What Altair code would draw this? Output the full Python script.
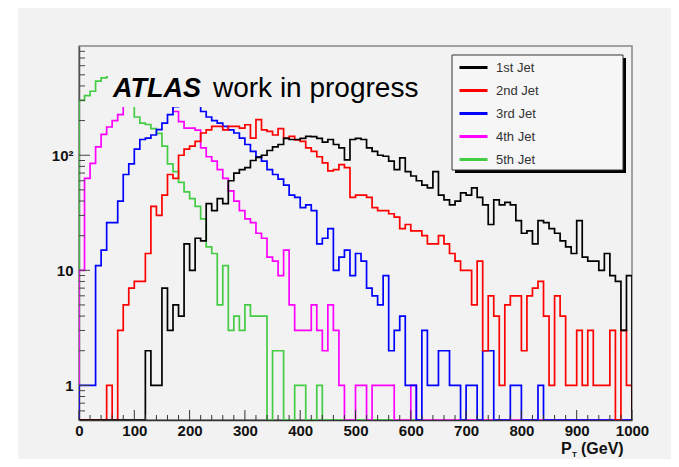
import altair as alt
import pandas as pd

# ---------------- data (10 GeV bins, 0-1000 GeV) ----------------
BIN_LOW = list(range(0, 1000, 10))

JET1 = [0, 0, 0, 0, 0, 0, 0, 0, 0, 0,
        0, 0, 2, 1, 1, 7, 3, 5, 4, 17,
        10, 19, 18, 38, 33, 42, 38, 60, 70, 75,
        78, 90, 96, 100, 110, 118, 124, 140, 137, 137,
        140, 146, 145, 140, 130, 137, 124, 116, 91, 137,
        140, 137, 116, 108, 100, 98, 89, 75, 95, 72,
        66, 60, 55, 52, 72, 45, 41, 37, 40, 47,
        45, 52, 43, 37, 25, 41, 37, 39, 37, 27,
        21, 22, 17, 27, 26, 23, 21, 18, 16, 14,
        27, 13, 12, 12, 10, 14, 9, 8, 3, 9]

JET2 = [0, 0, 0, 0, 0, 1, 0, 3, 5, 7,
        8, 8, 14, 36, 30, 45, 68, 63, 100, 113,
        120, 132, 156, 166, 178, 178, 166, 178, 178, 172,
        184, 141, 204, 166, 161, 150, 170, 141, 146, 136,
        132, 116, 108, 97, 86, 73, 75, 83, 78, 43,
        45, 45, 43, 35, 33, 33, 31, 29, 23, 25,
        22, 22, 20, 17, 17, 20, 17, 14, 12, 10,
        10, 5, 12, 2, 6, 4, 1, 5, 6, 6,
        2, 6, 7, 8, 4, 1, 6, 4, 1, 1,
        3, 1, 3, 1, 1, 1, 3, 0, 3, 1]

JET3 = [1, 1, 1, 11, 15, 26, 26, 40, 68, 84,
        113, 137, 141, 150, 167, 190, 225, 265, 300, 310,
        310, 300, 240, 215, 200, 190, 178, 166, 156, 141,
        124, 108, 97, 89, 75, 68, 62, 55, 45, 43,
        35, 37, 33, 17, 19, 23, 10, 13, 15, 9,
        14, 12, 7, 6, 5, 9, 2, 3, 4, 1,
        1, 0, 3, 1, 1, 2, 2, 1, 1, 0,
        1, 1, 0, 2, 2, 0, 0, 0, 1, 1,
        0, 0, 0, 1, 0, 0, 0, 0, 0, 0,
        0, 0, 0, 0, 0, 0, 0, 0, 0, 0]

JET4 = [10, 63, 85, 118, 152, 176, 200, 225, 300, 320,
        330, 320, 310, 300, 290, 280, 270, 240, 196, 172,
        172, 165, 116, 97, 89, 75, 63, 49, 40, 33,
        28, 26, 21, 19, 13, 12, 9, 15, 5, 3,
        3, 3, 5, 3, 2, 5, 3, 1, 0, 0,
        1, 1, 0, 1, 1, 1, 1, 0, 0, 0,
        1, 0, 0, 0, 0, 0, 0, 0, 0, 0,
        0, 0, 0, 0, 0, 0, 0, 0, 0, 0,
        0, 0, 0, 0, 0, 0, 0, 0, 0, 0,
        0, 0, 0, 0, 0, 0, 0, 0, 0, 0]

JET5 = [300, 330, 360, 440, 470, 480, 450, 420, 380, 320,
        215, 190, 185, 170, 155, 120, 84, 72, 58, 48,
        42, 36, 28, 16, 14, 5, 11, 3, 4, 3,
        5, 4, 4, 4, 0, 2, 2, 0, 0, 1,
        1, 0, 0, 1, 0, 0, 0, 0, 0, 0,
        0, 0, 0, 0, 0, 0, 0, 0, 0, 0,
        0, 0, 0, 0, 0, 0, 0, 0, 0, 0,
        0, 0, 0, 0, 0, 0, 0, 0, 0, 0,
        0, 0, 0, 0, 0, 0, 0, 0, 0, 0,
        0, 0, 0, 0, 0, 0, 0, 0, 0, 0]

SERIES = ["1st Jet", "2nd Jet", "3rd Jet", "4th Jet", "5th Jet"]
COLORS = ["#000000", "#ff0000", "#0000ff", "#ff00ff", "#44cc44"]

X_MAJOR = [0, 100, 200, 300, 400, 500, 600, 700, 800, 900, 1000]
X_MINOR = [20, 40, 60, 80, 120, 140, 160, 180, 220, 240, 260, 280,
           320, 340, 360, 380, 420, 440, 460, 480, 520, 540, 560, 580,
           620, 640, 660, 680, 720, 740, 760, 780, 820, 840, 860, 880,
           920, 940, 960, 980]
Y_MAJOR = [1, 10, 100]
Y_MINOR = [0.6, 0.7, 0.8, 0.9, 2, 3, 4, 5, 6, 7, 8, 9,
           20, 30, 40, 50, 60, 70, 80, 90, 200, 300, 400, 500, 600, 700, 800]

Y_MIN, Y_MAX = 0.5, 890
W, H = 553, 374
FONT = "Liberation Sans"
BG = "#f2f2f2"

# ---------------- table ----------------
rows = []
for name, vals in zip(SERIES, [JET1, JET2, JET3, JET4, JET5]):
    pts = [(0, 0)] + list(zip(BIN_LOW, vals)) + [(1000, vals[-1]), (1000, 0)]
    for k, (x, v) in enumerate(pts):
        rows.append({"series": name, "pt": k, "x": x, "count": v})
df = pd.DataFrame(rows)

xs = alt.Scale(domain=[0, 1000], nice=False, zero=False)
ys = alt.Scale(type="log", domain=[Y_MIN, Y_MAX], nice=False)

x_axis = alt.Axis(values=X_MAJOR, format="d", ticks=False, grid=False, title=None,
                  labelFont=FONT, labelFontSize=15, labelFontWeight="bold",
                  labelColor="#111111", labelPadding=3, labelFlush=False,
                  labelOverlap=False, labelAngle=0,
                  domainColor="#333333", domainWidth=1.5)
y_axis = alt.Axis(values=Y_MAJOR, ticks=False, grid=False, title=None,
                  labelExpr="datum.value == 100 ? '10²' : format(datum.value, 'd')",
                  labelFont=FONT, labelFontSize=15, labelFontWeight="bold",
                  labelColor="#111111", labelPadding=6, labelOverlap=False,
                  domainColor="#555555", domainWidth=1.5)

legend = alt.Legend(orient="none", legendX=379, legendY=10, title=None,
                    symbolType="stroke", symbolStrokeWidth=3, symbolSize=784,
                    labelFont=FONT, labelFontSize=13, labelColor="#333333",
                    labelOffset=7, padding=0, rowPadding=0, clipHeight=23)

X_ENC = alt.X("x:Q", scale=xs, axis=x_axis)
Y_ENC = alt.Y("yv:Q", scale=ys, axis=y_axis)

base = alt.Chart(df).transform_calculate(
    yv=f"max(datum.count, {Y_MIN})"
).mark_line(interpolate="step-after", strokeWidth=1.7, clip=True).encode(
    x=X_ENC,
    y=Y_ENC,
    color=alt.Color("series:N", scale=alt.Scale(domain=SERIES, range=COLORS), legend=legend),
    order=alt.Order("pt:Q"),
)
hist_layers = [base.transform_filter(alt.datum.series == s) for s in reversed(SERIES)]

one = pd.DataFrame({"a": [0]})

# opaque box behind the ATLAS label
label_box = alt.Chart(one).mark_rect(color=BG).encode(
    x=alt.value(29), x2=alt.value(346), y=alt.value(12), y2=alt.value(61))
atlas = alt.Chart(one).mark_text(
    text="ATLAS", font=FONT, fontSize=27, fontWeight="bold", fontStyle="italic",
    align="left", baseline="alphabetic", color="#000000"
).encode(x=alt.value(34), y=alt.value(51))
wip = alt.Chart(one).mark_text(
    text="work in progress", font=FONT, fontSize=28, align="left",
    baseline="alphabetic", color="#000000"
).encode(x=alt.value(134), y=alt.value(51))

# inward ticks (ROOT style)
xmaj = alt.Chart(pd.DataFrame({"x": X_MAJOR})).mark_rule(color="#333333", strokeWidth=1).encode(
    x=X_ENC, y=alt.value(H), y2=alt.value(H - 10))
xmin = alt.Chart(pd.DataFrame({"x": X_MINOR})).mark_rule(color="#333333", strokeWidth=1).encode(
    x=X_ENC, y=alt.value(H), y2=alt.value(H - 5))
ymaj = alt.Chart(pd.DataFrame({"yv": Y_MAJOR})).mark_rule(color="#444444", strokeWidth=1).encode(
    y=Y_ENC, x=alt.value(0), x2=alt.value(11))
ymin = alt.Chart(pd.DataFrame({"yv": Y_MINOR})).mark_rule(color="#444444", strokeWidth=1).encode(
    y=Y_ENC, x=alt.value(0), x2=alt.value(6))

# legend frame with shadow
shadow = alt.Chart(one).mark_rect(color="#000000").encode(
    x=alt.value(376), x2=alt.value(547), y=alt.value(12), y2=alt.value(127))
legbox = alt.Chart(one).mark_rect(fill="#f6f6f6", stroke="#333333", strokeWidth=1).encode(
    x=alt.value(373), x2=alt.value(544), y=alt.value(9), y2=alt.value(124))

# axis title P_T (GeV)
t_p = alt.Chart(one).mark_text(text="P", font=FONT, fontSize=16, fontWeight="bold",
                               align="left", baseline="alphabetic", color="#111111"
                               ).encode(x=alt.value(482), y=alt.value(408))
t_t = alt.Chart(one).mark_text(text="T", font=FONT, fontSize=8, fontWeight="bold",
                               align="left", baseline="alphabetic", color="#111111"
                               ).encode(x=alt.value(493), y=alt.value(411))
t_gev = alt.Chart(one).mark_text(text="(GeV)", font=FONT, fontSize=16, fontWeight="bold",
                                 align="left", baseline="alphabetic", color="#111111"
                                 ).encode(x=alt.value(502), y=alt.value(408))

# white strip at the far left of the slide
strip = alt.Chart(one).mark_rect(color="#ffffff").encode(
    x=alt.value(-71), x2=alt.value(-61), y=alt.value(-38), y2=alt.value(H + 39))

chart = alt.layer(
    strip, *hist_layers, label_box, atlas, wip,
    xmaj, xmin, ymaj, ymin, shadow, legbox, t_p, t_t, t_gev
).properties(
    width=W, height=H,
    autosize=alt.AutoSizeParams(type="none"),
    padding={"left": 71, "top": 38, "right": 39, "bottom": 39},
    background=BG,
).configure_view(stroke="#888888", strokeWidth=1.5)

chart.save("out.html", embed_options={"renderer": "svg", "actions": False})
